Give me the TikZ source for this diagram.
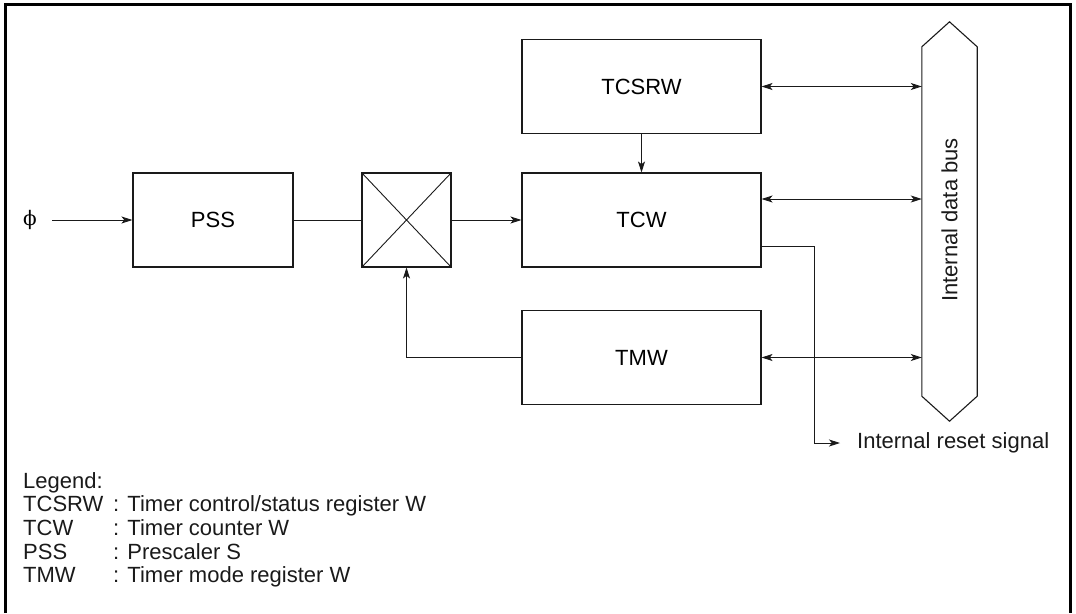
\documentclass[tikz,border=0pt]{standalone}
\usepackage{fontspec}
\setmainfont{Liberation Sans}
\newfontfamily\phifont{DejaVu Serif}
\usetikzlibrary{arrows.meta}
\definecolor{ink}{HTML}{1A1A1A}
\tikzset{
  box/.style={draw=ink, line width=1.1pt, minimum width=239pt, minimum height=94pt, inner sep=0pt, font=\fontsize{22}{25}\selectfont},
  conn/.style={draw=ink, line width=0.9pt},
  tip/.style={-{Stealth[length=11pt,width=7pt,inset=2.8pt]}},
  btip/.style={{Stealth[length=11pt,width=7pt,inset=2.8pt]}-{Stealth[length=11pt,width=7pt,inset=2.8pt]}},
  lab/.style={font=\fontsize{22}{25}\selectfont, inner sep=0pt, text=ink},
}
\begin{document}
\begin{tikzpicture}[x=1pt,y=-1pt]
\useasboundingbox (0,0) rectangle (1076,613);
% frame
\draw[line width=3pt] (5,613) -- (5,4) -- (1070,4) -- (1070,613);
% blocks
\node[box, minimum width=160pt] (pss) at (213,220) {PSS};
\node[box, minimum width=89pt] (mux) at (406.5,220) {};
\draw[conn] (mux.north west) -- (mux.south east) (mux.south west) -- (mux.north east);
\node[box] (tcsrw) at (641.5,86.5) {TCSRW};
\node[box] (tcw) at (641.5,220) {TCW};
\node[box] (tmw) at (641.5,357.5) {TMW};
% bus
\node[minimum width=55pt, minimum height=349pt, inner sep=0pt] (bus) at (949.5,221.5) {};
\draw[draw=ink, line width=1.1pt] (bus.north west) -- ([yshift=25pt]bus.north) -- (bus.north east)
  -- (bus.south east) -- ([yshift=-25pt]bus.south) -- (bus.south west) -- cycle;
\node[lab, rotate=90] (bustext) at (949.5,220) {Internal data bus};
% input
\node[font=\phifont\fontsize{20}{24}\selectfont, inner sep=0pt] (phi) at (30,220) {ϕ};
\coordinate (phistart) at (52,220);
\draw[conn, tip] (phistart) -- (pss.west);
\draw[conn] (pss.east) -- (mux.west);
\draw[conn, tip] (mux.east) -- (tcw.west);
\draw[conn, tip] (tcsrw.south) -- (tcw.north);
\draw[conn, tip] (tmw.west) -| (mux.south);
% bus connections
\coordinate (tcwbus) at ([yshift=21pt]tcw.east);
\coordinate (tcwrst) at ([yshift=-26pt]tcw.east);
\draw[conn, btip] (tcsrw.east) -- (bus.west |- tcsrw.east);
\draw[conn, btip] (tcwbus) -- (bus.west |- tcwbus);
\draw[conn, btip] (tmw.east) -- (bus.west |- tmw.east);
% reset
\node[lab, anchor=west] (rst) at (857,443) {Internal reset signal};
\coordinate (rstbend) at (814,443);
\draw[conn, tip] (tcwrst) -| (rstbend) -- ([xshift=-17pt]rst.west);
% legend
\node[lab, anchor=base west] (lg0) at (23,488) {Legend:};
\node[lab, anchor=base west] (lg1) at (23,511) {TCSRW};
\node[lab, anchor=base west] (lg1d) at (113,511) {: Timer control/status register W};
\node[lab, anchor=base west] (lg2) at (23,535) {TCW};
\node[lab, anchor=base west] (lg2d) at (113,535) {: Timer counter W};
\node[lab, anchor=base west] (lg3) at (23,559) {PSS};
\node[lab, anchor=base west] (lg3d) at (113,559) {: Prescaler S};
\node[lab, anchor=base west] (lg4) at (23,582) {TMW};
\node[lab, anchor=base west] (lg4d) at (113,582) {: Timer mode register W};
\end{tikzpicture}
\end{document}
